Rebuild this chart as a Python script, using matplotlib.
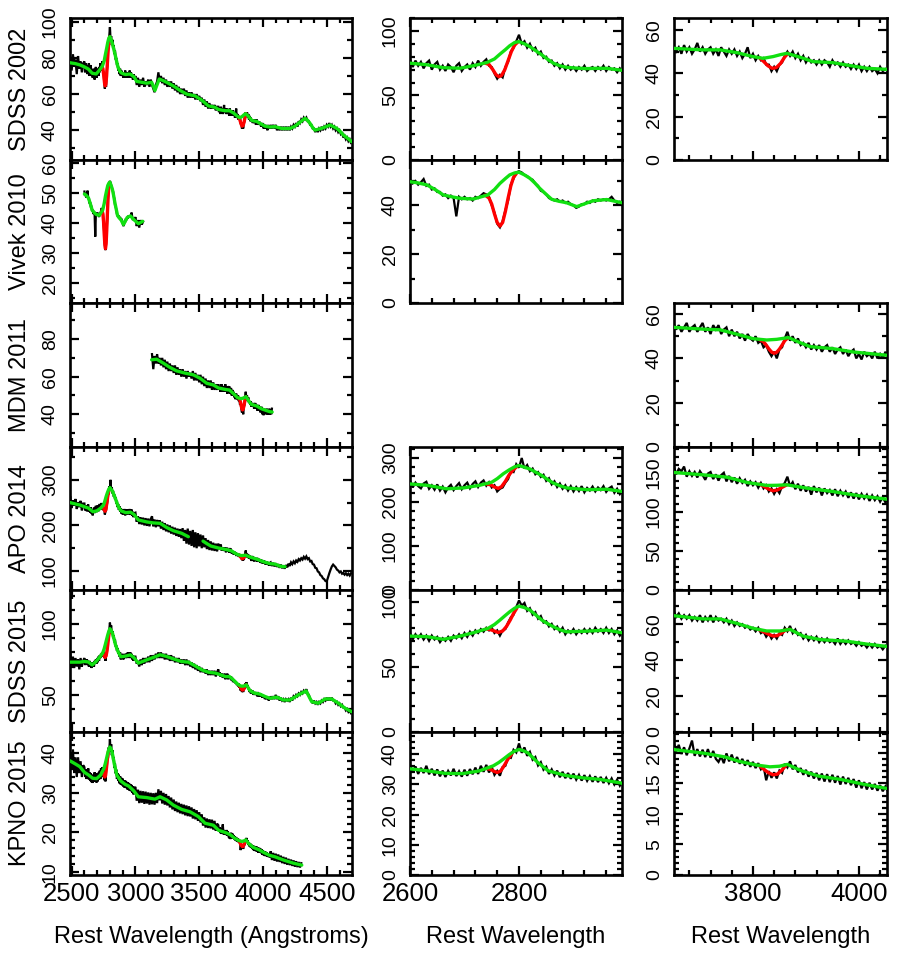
import numpy as np
import matplotlib
matplotlib.use("Agg")
import matplotlib.pyplot as plt
from matplotlib.ticker import MultipleLocator
from matplotlib import font_manager

# ---------------- DATA ----------------
# Black spectra: segments (start wavelength, sampling step, flux values)
SDSS02_B_2490 = [80,73,82,75,79,71,81,74,78,72,77]
SDSS02_B_2600 = [78,72,77,73,76,71,75,77,70,74,76,70,73,69,74,72,68,73,75,69,
                 72,74,70,75,72,77,73,76,78,73,72,67,63,66,64,72,76,84,87,92,
                 97,90,92,87,90,85,87,82,84,79,80,76,77,73,75,71,74,70,73,70,
                 72,69,72,70,73,69,71,72,69,72,70,73,69,72,70,71,68,71,68]
SDSS02_B_3000 = [70,65,69,64,68,65,69,64,67,65,68,64,68,65,63,61,65,67,72,67,
                 70,66,69,65,68,64,67,64,67,63,66,62,65,61,64,60,63,60,63,59,
                 62,58,61,58,61,58,60,57,60,57,59,56,58,54,57,53,56,52,55,52,
                 54,52,54,51,53]
SDSS02_B_3650 = [53,50,52,49,53,50,52,49,51,54,50,52,49,51,52,49,51,48,52,50,
                 48,51,49,51,48,50,47,49,52,47,49,46,48,46,47,44,44,41,43,41,
                 44,45,48,50,48,50,47,49,46,48,45,47,45,46,44,46,44,46,45,43,
                 46,44,45,43,45,43,44,42,44,42,44,41,43,41,43,41,42,40,43,41,
                 42,41]
SDSS02_B_4060 = [43,41,43,41,43,40,42,40,42,40,42,40,42,40,42,40,42,41,43,42,
                 44,42,45,44,46,45,47,46,47,45,45,43,43,41,41,39,41,39,41,40,
                 42,40,42,41,43,42,44,42,43,41,42,40,41,39,40,38,39,36,37,35,
                 36,34,35,33]
SDSS02_G_W = [2487,2530,2565,2600,2631,2661,2692,2716,2741,2755,2765,2775,2783,2792,2800,2810,
              2820,2831,2842,2852,2863,2875,2887,2905,2924,2942,2961,2989,3010,3050,3088,3127,
              3140,3153,3166,3187,3215,3245,3297,3350,3402,3467,3519,3572,3624,3651,3680,3706,
              3738,3770,3800,3819,3838,3852,3864,3877,3889,3913,3951,3977,4015,4053,4095,4147,
              4212,4250,4278,4305,4330,4350,4369,4390,4408,4461,4526,4578,4605,4630,4665,4696]
SDSS02_G_F = [77.3,76.8,76.1,75.0,73.8,71.5,71.1,73.0,75.5,78.3,82.0,85.5,88.5,91,91.7,90,
              87.8,84.6,81.4,78.2,75.0,73,71.8,71.2,70.8,71,71.0,69.5,67,66.5,66,66.5,
              64.5,62,64.5,68.3,67.5,66.5,64.5,62,60,59,56.7,53.5,52.7,51.5,51.1,50.8,
              50.8,49.5,47.7,46.9,47.7,48.6,49.2,48.3,47.4,45.4,44.9,43.8,42.3,41.8,42,41,
              41,42.2,43.8,45.3,46.6,45.5,43.8,41.5,40.1,41.1,42.9,41.1,39.4,37.4,35.5,33.7]
SDSS02_R1_W = [2738,2745,2752,2758,2763,2768,2774,2780,2786,2792,2798]
SDSS02_R1_F = [75,74,70,66,64.5,65.5,70,77,84,89,91.5]
SDSS02_R2_W = [3812,3820,3828,3836,3844,3852,3860,3866]
SDSS02_R2_F = [47.2,45.5,43.5,42.3,42.6,44.5,47.5,49.2]

VIVEK_B_2600 = [50.5,49,50,48.5,49.5,50.8,48,48.5,46.5,47,45.5,45.5,44,44.5,43,44,43,35.5,43.5,42.5,
                43.5,42.5,43,42,43.5,43,44,45,44.5,43.5,40,37,32.5,31,33.5,38,42,48.5,51,53.5,
                54,53.5,52.5,52,51,50.5,49,48,46,45.5,44.5,43,42.5,42,42.5,41.5,42,41,41.5,40.5,
                40,39,39.5,40.5,40.5,41.5,41,42,41.5,42.5,42,42.5,42,42.5,43.5,42,41,41.5,41]
VIVEK_B_3000 = [42,39,41,38.5,41,39.5,40.5]
VIVEK_G_W = [2600,2615,2631,2646,2661,2677,2692,2716,2743,2755,2765,2775,2783,2792,2800,
             2810,2820,2829,2838,2849,2860,2873,2887,2906,2921,2936,2961,2989,3023,3057]
VIVEK_G_F = [49.7,49.2,48.4,46.5,44.3,43.5,42.9,42.6,44.3,46.5,49,51,52.5,53.3,53.6,
             52.5,51.1,49.2,47,44.7,42.5,41.7,41.1,39.5,40.7,41.9,42.4,41.1,39.8,40.6]
VIVEK_R_W = [2738,2745,2750,2755,2760,2765,2770,2775,2780,2785,2790,2795]
VIVEK_R_F = [44.2,43,40.5,36.5,33,31.5,33,37.5,43,48,51.5,53]

MDM_B_3130 = [72,64,71,67,72,67,70,66,70,65,69,64,68,63,67,63,66,62,66,61,
              65,61,64,60,64,60,63,59,63,60,62,59,63,58,62,58,61,57,61,56,
              60,55,59,54,58,54,58,53,57,53,56,53]
MDM_B_3650 = [56,53,55,52,54,56,52,54,55,52,54,56,52,54,51,55,53,55,51,53,
              54,50,53,50,52,49,51,48,51,49,48,50,47,48,45,46,43,41,43,40,
              44,45,49,52,48,50,47,49,46,47,45,47,44,46,44,46,43,45,46,43,
              45,42,44,45,42,44,41,43,44,40,42,39.5,43,41,42,40,43,40,42,40,
              43,40,42,40,43]
MDM_G_W = [3127,3167,3219,3271,3323,3389,3454,3506,3559,3611,3651,3706,3738,3770,3800,3826,
           3845,3867,3889,3908,3951,3989,4053,4072]
MDM_G_F = [69,69.3,67.2,64.9,63.1,61.9,61,59.2,56.5,55.6,54,53.2,52.9,50.9,48.9,48.3,
           48.6,49.4,47.1,45.3,44.4,42.9,41.4,41.2]
MDM_R_W = [3812,3820,3825,3830,3835,3840,3845,3850,3855,3860,3866]
MDM_R_F = [48.5,47.5,46,44.3,42.9,42.3,42.8,44.2,46,48,49.3]

APO_B_2490 = [262,238,255,243,258,236,251,240,254,233,248]
APO_B_2600 = [248,233,244,236,231,242,246,230,238,228,240,226,235,222,233,239,227,236,243,229,
              238,244,231,241,247,234,244,249,237,245,233,238,224,230,233,244,252,270,268,286,
              278,300,276,284,270,276,263,268,257,262,248,254,240,247,234,242,230,238,226,236,
              224,234,225,236,222,232,226,235,224,233,227,236,223,231,235,221,230,218,227]
APO_B_3000 = [228,208,220,203,218,202,217,200,216,199,215,198,214,220,198,213,196,212,198,211,
              193,208,190,205,187,202,185,200,182,197,180,195,177,193,175,192,172,194,166,190,
              160,193,158,188,155,190,152,185,150,183,154,180,150,178,152,172,148,168,146,165,
              145,162,144,160,143]
APO_B_3650 = [160,148,155,152,158,145,152,146,151,144,152,147,141,149,151,142,148,140,147,150,
              139,146,138,144,136,143,137,141,133,139,134,138,131,137,130,134,126,130,123,129,
              124,133,137,145,133,138,129,136,127,134,126,132,122,133,125,131,121,130,124,128,
              121,129,120,127,121,126,118,125,117,124,116,123,117,122,114,121,115,120,113,119,
              112,118]
APO_B_4060 = [119,111,118,110,117,109,115,107,114,106,112,105,113,108,116,111,119,115,121,117,
              123,120,126,123,128,125,131,127,132,126,128,121,122,115,114,107,106,99,97,91,
              89,84,82,78,77,86,95,103,110,114,111,108,103,101,97,99,94,96,92,95,
              91,94,90,95]
APO_G1_W = [2487,2530,2565,2600,2631,2667,2698,2728,2750,2760,2771,2782,2792,2800,2810,2820,
            2831,2842,2852,2863,2875,2887,2924,2961,2989,3023,3088,3140,3193,3245,3297,3363,3415]
APO_G1_F = [250,247,244.7,241,238,230,232,238,245,253,264,273,280,283,279,275,
            267.5,260,251.5,243,237,232,228,229,224,212,207.7,205.5,204.6,195.4,188.4,182.7,175.2]
APO_G2_W = [3530,3560,3591,3651,3706,3751,3789,3826,3845,3864,3902,3951,4001,4053,4095,4134,4173]
APO_G2_F = [165.5,160,154.8,150.4,147.4,144.4,137.6,133.8,134,134.6,130.3,126,120.5,116.2,115,110.5,109.4]
APO_R1_W = [2740,2748,2755,2762,2768,2775,2782,2790,2795]
APO_R1_F = [241,239,234,231,235,247,262,274,279]
APO_R2_W = [3812,3822,3830,3838,3846,3854,3864]
APO_R2_F = [135.5,132,129,127,128,131,134.6]

SDSS15_B_2490 = [79,70,77,69,76,70,75,68,76,70,74]
SDSS15_B_2600 = [76,71,75,72,75,71,74,70,74,71,73,69,72,70,73,70,74,72,75,72,
                 76,73,77,74,78,76,79,77,80,78,80,76,78,74,78,79,84,88,90,96,
                 101,97,99,93,95,90,92,87,89,84,85,81,83,79,81,77,80,75,78,76,
                 79,75,78,76,79,76,79,76,80,77,79,76,80,76,79,75,78,74,77]
SDSS15_B_3000 = [77,72,74,70,75,71,76,72,76,73,77,73,78,74,78,75,79,76,80,76,
                 80,76,79,75,79,75,78,74,78,74,77,73,76,73,76,72,75,72,75,71,
                 75,71,74,70,73,69,72,68,71,67,70,66,69,66,68,65,68,64,67,64,
                 67,64,67,63,66]
SDSS15_B_3650 = [68,64,66,63,65,63,65,62,64,62,65,61,64,62,65,61,64,62,63,61,
                 63,60,62,59,61,59,60,58,59,57,58,56,58,55,56,53,55,52,54,52,
                 55,54,58,56,59,55,57,54,55,52,54,51,53,51,53,50,52,50,52,50,
                 51,49,52,49,51,49,51,49,50,48,50,48,49,47,49,47,49,47,48,46,
                 48,47]
SDSS15_B_4060 = [49,47,49,47,50,47,49,46,48,46,47,45,47,46,47,45,48,46,49,48,
                 50,49,51,50,52,51,53,52,54,51,50,47,46,44,46,44,45,43,45,44,
                 46,45,47,46,48,46,48,46,48,46,46,44,45,43,44,42,43,41,41,39,
                 40,38,39,37]
SDSS15_G_W = [2487,2530,2565,2600,2631,2661,2692,2716,2743,2755,2765,2775,2783,2792,2800,2810,
              2820,2831,2842,2852,2863,2875,2887,2924,2961,2989,3023,3088,3140,3193,3245,3297,
              3363,3415,3467,3519,3572,3624,3651,3706,3738,3770,3800,3826,3851,3870,3895,3927,
              3977,4015,4053,4107,4160,4212,4278,4338,4360,4382,4434,4487,4539,4591,4643,4696]
SDSS15_G_F = [73.1,73.1,73.1,73.6,73.2,71.1,73.6,76.2,79.5,82.5,85.9,89.5,92.3,95,96.7,95.5,
              93.6,89.8,85.9,83.3,80.8,78.5,76.9,77.4,78.2,76.2,72.4,74.7,76.4,78.3,77.1,75.4,
              73.5,73.1,70.5,67.7,66,65.4,64.7,62.9,62.9,60.4,57.7,56.2,56.2,57.1,53.3,51.4,
              50.5,48.9,47.6,48.4,46.4,46.4,50,52.8,49,45.2,44.1,47.1,47.1,44.1,40.6,38.1]
SDSS15_R1_W = [2740,2748,2755,2762,2770,2777,2784,2790,2796]
SDSS15_R1_F = [79.2,78.5,77.5,76.4,77.5,81,86,91,95]
SDSS15_R2_W = [3812,3822,3830,3838,3846,3854,3862,3870]
SDSS15_R2_F = [56.8,55.5,54.3,53.4,53.6,55,56.8,57.1]

KPNO_B_2490 = [40,36,41,35,39,34,39,35,38,34,37]
KPNO_B_2600 = [36.5,34,36,33.5,35.5,33.8,36.2,33.4,35.2,33,35,32.7,34.6,32.5,34.5,33,35.2,32.8,34.4,32.6,
               34.9,32.9,35.1,33.4,35.6,33.5,36.2,34.2,36.5,34,35.8,33.2,34.5,32.9,35.8,36.2,39,38.8,41.5,40.6,
               43.6,40.5,42.3,39.5,40.8,38.2,39.1,36.3,37.4,34.9,35.9,33.5,35,33,34.6,32.4,34.2,32.1,33.8,31.9,
               33.6,31.6,33.2,31.3,33.1,31.2,32.8,30.9,32.7,30.8,32.5,30.5,32.2,30.4,32,30,31.6,29.6,31.2]
KPNO_B_3000 = [31.5,28,30.8,27.4,30.5,27.5,30.4,27.2,30.3,27.3,30.1,27,30,27.1,29.9,27,30,27.4,30.9,28.1,
               30.5,27.3,30,27,29.7,26.8,29.2,26.3,28.8,25.8,28.3,25.4,27.8,25.1,27.5,24.8,27.2,24.6,27,24.3,
               26.8,24.1,26.6,24,26.3,23.5,25.9,23.3,25.6,22.9,25.1,22.5,24.5,21.7,23.8,21.2,23.5,21.1,23.3,21,
               23.2,20.7,22.9,20.4,22.2]
KPNO_B_3650 = [21.8,20.2,21.3,19.8,20.9,19.6,20.7,22.0,19.5,20.6,19.4,20.5,19.3,20.6,19.2,20.3,19.0,18.5,19.4,18.3,
               19.9,18.6,19.7,18.4,19.3,18.2,19.0,17.9,18.8,17.7,18.5,17.5,18.3,17.3,17.8,15.5,17.0,15.9,16.8,15.8,
               17.1,16.7,18.2,17.6,18.6,17.3,18.0,16.8,17.5,16.4,17.2,16.1,16.9,15.8,16.7,15.5,16.6,15.3,16.5,15.2,
               16.4,15.1,16.2,14.8,16.1,14.9,15.9,14.7,15.7,14.3,15.5,14.2,15.2,14.0,15.1,14.0,14.9,13.8,14.7,13.7,
               14.5,13.7]
KPNO_B_4060 = [15.2,13.0,14.8,12.8,14.6,12.6,14.4,12.5,14.1,12.2,13.8,12.0,13.6,11.8,13.3,11.7,13.1,11.5,12.9,11.3,
               12.7,11.2,12.5,11.1,12.2]
KPNO_G_W = [2487,2530,2565,2600,2633,2664,2696,2727,2753,2763,2772,2782,2791,2800,2808,2816,2826,2835,2854,2885,
            2917,2948,2987,3023,3088,3153,3193,3245,3297,3363,3428,3493,3546,3611,3653,3710,3748,3774,3806,3832,
            3850,3865,3890,3923,3968,4006,4050,4095,4160,4238,4304]
KPNO_G_F = [38.1,37.3,36.6,35.2,34.5,33.7,33.6,34.5,36.2,37.3,38.5,39.9,41,41.6,41.2,40.5,38.8,37.2,34.5,33,
            32.2,31.7,30.5,29,28.8,28.4,29,28.2,26.9,25.8,25.2,24,22.3,21.8,20.5,19.9,19.3,18.6,18,17.7,
            17.8,18.1,17.1,16.2,15.6,14.9,14.2,13.8,13,12.2,11.7]
KPNO_R1_W = [2740,2748,2755,2760,2766,2772,2780,2788]
KPNO_R1_F = [35.3,35,34.3,34,34.4,36,38.5,40.5]
KPNO_R2_W = [3812,3822,3830,3838,3846,3854,3862]
KPNO_R2_F = [17.9,17.2,16.7,16.4,16.5,17.1,17.9]

EPOCH_LABELS = ["SDSS 2002", "Vivek 2010", "MDM 2011", "APO 2014", "SDSS 2015", "KPNO 2015"]
XTITLES = ["Rest Wavelength (Angstroms)", "Rest Wavelength", "Rest Wavelength"]

EPOCHS = [
    dict(black=[(2490, 10, SDSS02_B_2490), (2600, 5, SDSS02_B_2600), (3000, 10, SDSS02_B_3000),
                (3650, 5, SDSS02_B_3650), (4060, 10, SDSS02_B_4060)],
         green=[(SDSS02_G_W, SDSS02_G_F)],
         red=[(SDSS02_R1_W, SDSS02_R1_F), (SDSS02_R2_W, SDSS02_R2_F)]),
    dict(black=[(2600, 5, VIVEK_B_2600), (3000, 10, VIVEK_B_3000)],
         green=[(VIVEK_G_W, VIVEK_G_F)],
         red=[(VIVEK_R_W, VIVEK_R_F)]),
    dict(black=[(3130, 10, MDM_B_3130), (3650, 5, MDM_B_3650)],
         green=[(MDM_G_W, MDM_G_F)],
         red=[(MDM_R_W, MDM_R_F)]),
    dict(black=[(2490, 10, APO_B_2490), (2600, 5, APO_B_2600), (3000, 10, APO_B_3000),
                (3650, 5, APO_B_3650), (4060, 10, APO_B_4060)],
         green=[(APO_G1_W, APO_G1_F), (APO_G2_W, APO_G2_F)],
         red=[(APO_R1_W, APO_R1_F), (APO_R2_W, APO_R2_F)]),
    dict(black=[(2490, 10, SDSS15_B_2490), (2600, 5, SDSS15_B_2600), (3000, 10, SDSS15_B_3000),
                (3650, 5, SDSS15_B_3650), (4060, 10, SDSS15_B_4060)],
         green=[(SDSS15_G_W, SDSS15_G_F)],
         red=[(SDSS15_R1_W, SDSS15_R1_F), (SDSS15_R2_W, SDSS15_R2_F)]),
    dict(black=[(2490, 10, KPNO_B_2490), (2600, 5, KPNO_B_2600), (3000, 10, KPNO_B_3000),
                (3650, 5, KPNO_B_3650), (4060, 10, KPNO_B_4060)],
         green=[(KPNO_G_W, KPNO_G_F)],
         red=[(KPNO_R1_W, KPNO_R1_F), (KPNO_R2_W, KPNO_R2_F)]),
]

# panel: (row, col, ylim, y major, y minor)
PANELS = [
    (0, 0, (23.6, 102), 20, 10), (1, 0, (13.4, 61), 10, 5), (2, 0, (22.6, 99.2), 20, 10),
    (3, 0, (58.3, 372), 100, 50), (4, 0, (23.8, 124), 50, 10), (5, 0, (9.2, 45.4), 10, 2),
    (0, 1, (0, 110), 50, 10), (1, 1, (0, 58.6), 20, 10), (3, 1, (0, 325), 100, 20),
    (4, 1, (0, 109), 50, 10), (5, 1, (0, 47.4), 10, 2),
    (0, 2, (0, 65.5), 20, 10), (2, 2, (0, 65), 20, 10), (3, 2, (0, 183), 50, 10),
    (4, 2, (0, 79), 20, 10), (5, 2, (0, 23.4), 5, 1),
]

# ---------------- LAYOUT / STYLE ----------------
FIG_W, FIG_H = 900, 955
COL_X = [(70, 352), (410, 622), (674, 887)]
ROW_Y = [18, 160, 303, 447, 590, 732, 875]
XLIM = [(2487, 4698), (2600, 2989), (3651, 4053)]
XMAJ = [500, 200, 200]
XMIN = [100, 40, 40]
GREEN = "#11e011"
RED = "#ff0000"

plt.rcParams['font.family'] = ['Liberation Sans', 'DejaVu Sans']
names = {f.name for f in font_manager.fontManager.ttflist}
if 'Liberation Sans Narrow' in names:
    YT_FONT = ['Liberation Sans Narrow', 'Liberation Sans', 'DejaVu Sans']
    YT_SIZE = 17.5
else:
    YT_FONT = ['Liberation Sans', 'DejaVu Sans']
    YT_SIZE = 14

fig = plt.figure(figsize=(FIG_W / 100, FIG_H / 100), dpi=100)


def black_arrays(segs):
    w = np.concatenate([s + st * np.arange(len(v)) for s, st, v in segs])
    f = np.concatenate([np.asarray(v, float) for s, st, v in segs])
    return w, f


def pairs(w, f):
    n = min(len(w), len(f))
    return np.asarray(w[:n], float), np.asarray(f[:n], float)


def major_ticks(lo, hi, step):
    start = np.ceil(lo / step - 1e-9) * step
    return np.arange(start, hi + 1e-9, step) + 0.0


def fmt(v):
    v = round(float(v), 6)
    if v == 0:
        return "0"
    return f"{v:g}"


for row, col, ylim, ymaj, ymin in PANELS:
    x0, x1 = COL_X[col]
    y0, y1 = ROW_Y[row], ROW_Y[row + 1]
    ax = fig.add_axes([x0 / FIG_W, 1 - y1 / FIG_H, (x1 - x0) / FIG_W, (y1 - y0) / FIG_H])
    ep = EPOCHS[row]
    bw, bf = black_arrays(ep['black'])
    ax.plot(bw, bf, color='black', lw=1.6, zorder=2, solid_joinstyle='miter')
    for w, f in ep['red']:
        ax.plot(*pairs(w, f), color=RED, lw=2.4, zorder=3, solid_capstyle='round')
    for w, f in ep['green']:
        ax.plot(*pairs(w, f), color=GREEN, lw=2.4, zorder=4, solid_capstyle='round')

    ax.set_xlim(*XLIM[col])
    ax.set_ylim(*ylim)
    xt = major_ticks(XLIM[col][0], XLIM[col][1], XMAJ[col])
    ax.set_xticks(xt)
    ax.xaxis.set_minor_locator(MultipleLocator(XMIN[col]))
    yt = major_ticks(ylim[0], ylim[1], ymaj)
    ax.set_yticks(yt)
    ax.set_yticklabels([fmt(v) for v in yt], rotation=90, va='center',
                       fontfamily=YT_FONT, fontsize=YT_SIZE)
    ax.yaxis.set_minor_locator(MultipleLocator(ymin))
    if row == 5:
        ax.set_xticklabels([fmt(v) for v in xt], fontsize=18.5)
    else:
        ax.tick_params(axis='x', labelbottom=False)
    ax.tick_params(which='both', direction='in', top=True, right=True, width=1.6)
    ax.tick_params(which='major', length=6.5)
    ax.tick_params(which='minor', length=3.6)
    ax.tick_params(axis='y', pad=8)
    ax.tick_params(axis='x', pad=5)
    for sp in ax.spines.values():
        sp.set_linewidth(1.9)

for r, lab in enumerate(EPOCH_LABELS):
    yc = (ROW_Y[r] + ROW_Y[r + 1]) / 2
    fig.text(20 / FIG_W, 1 - yc / FIG_H, lab, rotation=90, ha='center', va='center', fontsize=17)

for c, t in enumerate(XTITLES):
    xc = (COL_X[c][0] + COL_X[c][1]) / 2
    fig.text(xc / FIG_W, 1 - 937 / FIG_H, t, ha='center', va='center', fontsize=17)

fig.savefig("out.png", dpi=100)
